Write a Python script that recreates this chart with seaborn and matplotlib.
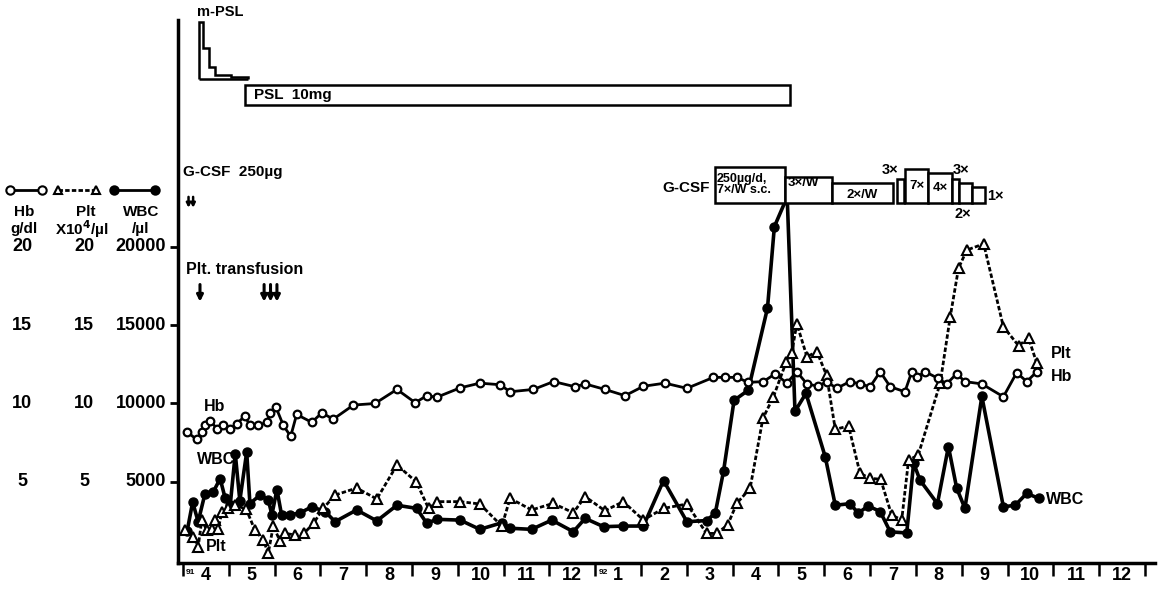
import numpy as np
import pandas as pd
import matplotlib
matplotlib.use("Agg")
import matplotlib.pyplot as plt
import matplotlib.transforms as mtransforms
from matplotlib.patches import Rectangle, FancyArrowPatch
from matplotlib.lines import Line2D
import seaborn as sns

# ---------------- data (x = months since 1 Apr 1991) ----------------
hb_month = [0.08, 0.30, 0.41, 0.48, 0.59, 0.74, 0.88, 1.03, 1.17, 1.35, 1.46, 1.64, 1.83, 1.90,
            2.03, 2.19, 2.35, 2.48, 2.81, 3.03, 3.28, 3.72, 4.19, 4.67, 5.07, 5.32, 5.54, 6.05,
            6.48, 6.92, 7.14, 7.65, 8.09, 8.56, 8.78, 9.21, 9.65, 10.05, 10.52, 11.00, 11.58,
            11.83, 12.09, 12.34, 12.67, 12.93, 13.18, 13.40, 13.62, 13.87, 14.05, 14.27, 14.56,
            14.78, 15.00, 15.22, 15.44, 15.76, 15.91, 16.02, 16.20, 16.49, 16.67, 16.89, 17.07,
            17.44, 17.91, 18.20, 18.42, 18.64]
hb_gdl = [8.2, 7.7, 8.2, 8.6, 8.9, 8.4, 8.6, 8.35, 8.7, 9.2, 8.6, 8.6, 8.8, 9.4,
          9.75, 8.6, 7.9, 9.3, 8.8, 9.4, 9.0, 9.9, 10.0, 10.9, 10.05, 10.5, 10.4, 11.0,
          11.3, 11.2, 10.75, 10.9, 11.4, 11.07, 11.25, 10.9, 10.5, 11.1, 11.3, 10.97, 11.67,
          11.67, 11.67, 11.35, 11.4, 11.9, 11.3, 12.03, 11.25, 11.1, 11.4, 10.97, 11.4,
          11.25, 11.07, 12.03, 11.07, 10.75, 12.03, 11.67, 12.03, 11.6, 11.25, 11.9, 11.4,
          11.25, 10.43, 11.97, 11.4, 12.03]

wbc_month = [0.09, 0.21, 0.33, 0.48, 0.66, 0.81, 0.92, 1.03, 1.14, 1.24, 1.39, 1.46, 1.68, 1.86,
             1.94, 2.05, 2.15, 2.34, 2.55, 2.81, 3.10, 3.32, 3.79, 4.23, 4.67, 5.10, 5.32, 5.54,
             6.05, 6.48, 6.96, 7.14, 7.61, 8.05, 8.52, 8.78, 9.18, 9.61, 10.05, 10.49, 11.00,
             11.43, 11.62, 11.80, 12.03, 12.34, 12.76, 12.91, 13.19, 13.36, 13.60, 14.02, 14.24,
             14.56, 14.74, 14.96, 15.22, 15.44, 15.80, 15.95, 16.09, 16.47, 16.71, 16.89, 17.07,
             17.44, 17.91, 18.17, 18.42, 18.68]
wbc_ul = [1850, 3700, 2450, 4250, 4350, 5200, 3950, 3500, 6800, 3800, 6900, 3600, 4150, 3850,
          2900, 4500, 2900, 2900, 3000, 3400, 3100, 2450, 3200, 2500, 3500, 3300, 2350, 2600,
          2550, 1960, 2380, 2030, 1960, 2550, 1810, 2660, 2130, 2170, 2170, 5080, 2450,
          2520, 3000, 5670, 10200, 10850, 16100, 21300, 23200, 9500, 10650, 6600, 3500,
          3600, 3000, 3450, 3100, 1800, 1730, 6200, 5100, 3600, 7250, 4600, 3300,
          10450, 3400, 3500, 4260, 3940]

plt_month = [0.04, 0.22, 0.33, 0.41, 0.52, 0.63, 0.70, 0.77, 0.85, 0.99, 1.14, 1.38, 1.57, 1.75,
             1.86, 1.97, 2.12, 2.23, 2.45, 2.64, 2.85, 3.06, 3.32, 3.79, 4.23, 4.67, 5.09, 5.36,
             5.54, 6.05, 6.48, 6.96, 7.14, 7.61, 8.08, 8.52, 8.78, 9.21, 9.61, 10.05, 10.49,
             11.00, 11.43, 11.65, 11.89, 12.09, 12.38, 12.66, 12.89, 13.17, 13.29, 13.40, 13.62,
             13.84, 14.05, 14.24, 14.53, 14.78, 15.00, 15.23, 15.47, 15.69, 15.84, 16.05, 16.53,
             16.75, 16.93, 17.11, 17.48, 17.91, 18.24, 18.46, 18.64]
plt_e4 = [1.9, 1.5, 0.85, 2.55, 1.9, 2.0, 2.55, 2.0, 3.1, 3.3, 3.5, 3.25, 1.9, 1.3,
          0.43, 2.17, 1.2, 1.7, 1.6, 1.7, 2.35, 3.3, 4.15, 4.6, 3.9, 6.07, 5.0, 3.3,
          3.73, 3.73, 3.58, 2.17, 3.94, 3.2, 3.62, 3.02, 4.05, 3.15, 3.73, 2.56, 3.3,
          3.58, 1.7, 1.7, 2.24, 3.62, 4.58, 9.05, 10.43, 12.67, 13.25, 15.1, 13.0,
          13.3, 11.8, 8.35, 8.56, 5.54, 5.22, 5.16, 2.88, 2.56, 6.39, 6.7, 11.3,
          15.55, 18.64, 19.8, 20.2, 14.9, 13.7, 14.17, 12.57]

month_labels = ["4", "5", "6", "7", "8", "9", "10", "11", "12",
                "1", "2", "3", "4", "5", "6", "7", "8", "9", "10", "11", "12"]
year_labels = {0: "91", 9: "92"}

ytick_hb = [5, 10, 15, 20]
ytick_plt = ["5", "10", "15", "20"]
ytick_wbc = ["5000", "10000", "15000", "20000"]

# platelet transfusion days (months since 1 Apr 1991)
transfusion_month = [0.37, 1.77, 1.91, 2.05]
# G-CSF 250 µg single doses
gcsf_single_month = [0.12, 0.22]

# steroid schedule
mpsl_edges = [0.34, 0.43, 0.56, 0.69, 1.05, 1.41]
mpsl_level = [34.4, 32.7, 31.5, 31.0, 30.85]
mpsl_base = 30.7
psl_span = (1.36, 13.25)

# G-CSF schedule: start, end, top
gcsf_start = [11.62, 13.14, 14.16, 15.58, 15.76, 16.27, 16.78, 16.93, 17.22]
gcsf_end = [13.14, 14.16, 15.51, 15.73, 16.27, 16.78, 16.93, 17.22, 17.51]
gcsf_top = [25.13, 24.49, 24.07, 24.33, 24.96, 24.71, 24.33, 24.07, 23.81]
gcsf_base = 22.83

# ---------------- figure ----------------
sns.set_style("ticks")
plt.rcParams["font.family"] = ["Liberation Sans", "DejaVu Sans"]
plt.rcParams["font.weight"] = "bold"
for key in ["text.color", "axes.labelcolor", "xtick.color", "ytick.color", "axes.edgecolor"]:
    plt.rcParams[key] = "black"

W, H = 1158, 591
fig = plt.figure(figsize=(W / 100, H / 100), dpi=100)
ax = fig.add_axes([178 / W, 1 - 563 / H, (1155 - 178) / W, (563 - 20) / H])

hb_df = pd.DataFrame({"month": hb_month, "value": hb_gdl})
wbc_df = pd.DataFrame({"month": wbc_month, "value": np.array(wbc_ul) / 1000.0})
plt_df = pd.DataFrame({"month": plt_month, "value": plt_e4})

sns.lineplot(data=wbc_df, x="month", y="value", ax=ax, estimator=None, sort=False,
             color="black", linewidth=2.6, marker="o", markersize=6.5,
             markerfacecolor="black", markeredgecolor="black", markeredgewidth=1, zorder=3)
sns.lineplot(data=plt_df, x="month", y="value", ax=ax, estimator=None, sort=False,
             color="black", linewidth=2.0, linestyle=(0, (1.6, 0.8)), marker="^", markersize=6.5,
             markerfacecolor="white", markeredgecolor="black", markeredgewidth=1.5, zorder=4)
sns.lineplot(data=hb_df, x="month", y="value", ax=ax, estimator=None, sort=False,
             color="black", linewidth=2.0, marker="o", markersize=5.5,
             markerfacecolor="white", markeredgecolor="black", markeredgewidth=1.6, zorder=5)

ax.set_xlim(-0.11, 21.22)
ax.set_ylim(-0.19, 34.5)
ax.set_xlabel("")
ax.set_ylabel("")

for s in ["top", "right"]:
    ax.spines[s].set_visible(False)
for s in ["left", "bottom"]:
    ax.spines[s].set_linewidth(2.5)
    ax.spines[s].set_color("black")

# x axis: month boundaries as ticks, labels at centers
ax.set_xticks(np.arange(0, 22), minor=True)
ax.set_xticks(np.arange(21) + 0.5)
ax.set_xticklabels(month_labels, fontsize=13, fontweight="bold", color="black")
ax.tick_params(axis="x", which="major", length=0, pad=3)
ax.tick_params(axis="x", which="minor", length=9, width=1.8, direction="out", color="black")
for k, lab in year_labels.items():
    ax.text(k + 0.07, -0.6, lab, fontsize=6, fontweight="bold", va="top", ha="left")

# y axis: three scales as text columns
ax.set_yticks(ytick_hb)
ax.set_yticklabels([])
ax.tick_params(axis="y", length=6, width=2, direction="out", color="black")
tr = mtransforms.blended_transform_factory(fig.transFigure, ax.transData)
for v, p, w in zip(ytick_hb, ytick_plt, ytick_wbc):
    ax.text(22 / W, v, str(v), transform=tr, ha="center", va="center", fontsize=13, fontweight="bold")
    ax.text(84 / W, v, p, transform=tr, ha="center", va="center", fontsize=13, fontweight="bold")
    ax.text(166 / W, v, w, transform=tr, ha="right", va="center", fontsize=13, fontweight="bold")

def fpx(x, y):
    return x / W, 1 - y / H

# legend-like header at left
for (x1, x2), mk, mfc, ls in [((10, 42), "o", "white", "-"), ((58, 96), "^", "white", (0, (1.6, 0.8))),
                               ((114, 155), "o", "black", "-")]:
    xa, ya = fpx(x1, 190)
    xb, _ = fpx(x2, 190)
    fig.add_artist(Line2D([xa, xb], [ya, ya], transform=fig.transFigure, color="black",
                          linewidth=2, linestyle=ls, marker=mk, markersize=6,
                          markerfacecolor=mfc, markeredgecolor="black", markeredgewidth=1.5))
hdr = [(24, 212, "Hb"), (24, 229, "g/dl"), (86, 212, "Plt"), (82, 229, r"X10$^{\mathbf{4}}$/µl"),
       (141, 212, "WBC"), (141, 229, "/µl")]
for x, y, t in hdr:
    fig.text(*fpx(x, y), t, ha="center", va="center", fontsize=11, fontweight="bold")

# steroid annotations
ax.stairs(mpsl_level, mpsl_edges, baseline=mpsl_base, color="black", linewidth=1.8, clip_on=False)
ax.hlines(mpsl_base, mpsl_edges[0], mpsl_edges[-1], color="black", linewidth=1.8, clip_on=False)
fig.text(*fpx(197, 12), "m-PSL", ha="left", va="center", fontsize=10.5, fontweight="bold")
ax.add_patch(Rectangle((psl_span[0], 29.1), psl_span[1] - psl_span[0], 1.25, facecolor="white",
                       edgecolor="black", linewidth=1.8, clip_on=False, zorder=6))
ax.text(psl_span[0] + 0.2, 29.72, "PSL  10mg", ha="left", va="center", fontsize=11,
        fontweight="bold", zorder=7)

# G-CSF schedule
for s, e, t in zip(gcsf_start, gcsf_end, gcsf_top):
    ax.add_patch(Rectangle((s, gcsf_base), e - s, t - gcsf_base, facecolor="white",
                           edgecolor="black", linewidth=1.8, clip_on=False, zorder=6))
ax.text(gcsf_start[0] + 0.04, (gcsf_base + gcsf_top[0]) / 2, "250µg/d,\n7×/W s.c.", ha="left",
        va="center", fontsize=9, fontweight="bold", linespacing=0.95, zorder=7)
ax.text(gcsf_start[1] + 0.05, gcsf_top[1] - 0.05, "3×/W", ha="left", va="top", fontsize=9.5,
        fontweight="bold", zorder=7)
ax.text((gcsf_start[2] + gcsf_end[2]) / 2, (gcsf_base + gcsf_top[2]) / 2 - 0.1, "2×/W", ha="center",
        va="center", fontsize=9.5, fontweight="bold", zorder=7)
ax.text((gcsf_start[4] + gcsf_end[4]) / 2, (gcsf_base + gcsf_top[4]) / 2, "7×", ha="center",
        va="center", fontsize=9.5, fontweight="bold", zorder=7)
ax.text((gcsf_start[5] + gcsf_end[5]) / 2, (gcsf_base + gcsf_top[5]) / 2, "4×", ha="center",
        va="center", fontsize=9.5, fontweight="bold", zorder=7)
ax.text(gcsf_start[3] - 0.15, gcsf_top[3] + 0.15, "3×", ha="center", va="bottom", fontsize=10.5,
        fontweight="bold")
ax.text(gcsf_start[7] + 0.05, gcsf_top[6] + 0.15, "3×", ha="center", va="bottom", fontsize=10.5,
        fontweight="bold")
ax.text(gcsf_start[7] + 0.1, gcsf_base - 0.25, "2×", ha="center", va="top", fontsize=10.5,
        fontweight="bold")
ax.text(gcsf_end[8] + 0.05, gcsf_base + 0.4, "1×", ha="left", va="center", fontsize=10.5,
        fontweight="bold")
fig.text(*fpx(710, 188), "G-CSF", ha="right", va="center", fontsize=11, fontweight="bold")

fig.text(*fpx(183, 172), "G-CSF  250µg", ha="left", va="center", fontsize=11, fontweight="bold")
fig.text(*fpx(186, 270), "Plt. transfusion", ha="left", va="center", fontsize=11.5, fontweight="bold")

# dose / transfusion arrows
def down_arrow(m, y_top, y_bot, lw=2.2, scale=9):
    ax.add_patch(FancyArrowPatch((m, y_top), (m, y_bot), arrowstyle="-|>", mutation_scale=scale,
                                 linewidth=lw, color="black", clip_on=False, shrinkA=0, shrinkB=0))

for m in gcsf_single_month:
    down_arrow(m, 23.2, 22.5, lw=1.8, scale=6)
for m in transfusion_month:
    down_arrow(m, 17.6, 16.5)

# series labels
ax.text(0.45, 9.8, "Hb", ha="left", va="center", fontsize=11.5, fontweight="bold")
ax.text(0.30, 6.4, "WBC", ha="left", va="center", fontsize=11.5, fontweight="bold")
ax.text(0.50, 0.85, "Plt", ha="left", va="center", fontsize=11.5, fontweight="bold")
ax.text(18.95, 13.2, "Plt", ha="left", va="center", fontsize=11.5, fontweight="bold")
ax.text(18.95, 11.75, "Hb", ha="left", va="center", fontsize=11.5, fontweight="bold")
ax.text(18.85, 3.85, "WBC", ha="left", va="center", fontsize=11.5, fontweight="bold")

fig.savefig("out.png", dpi=100, facecolor="white")
